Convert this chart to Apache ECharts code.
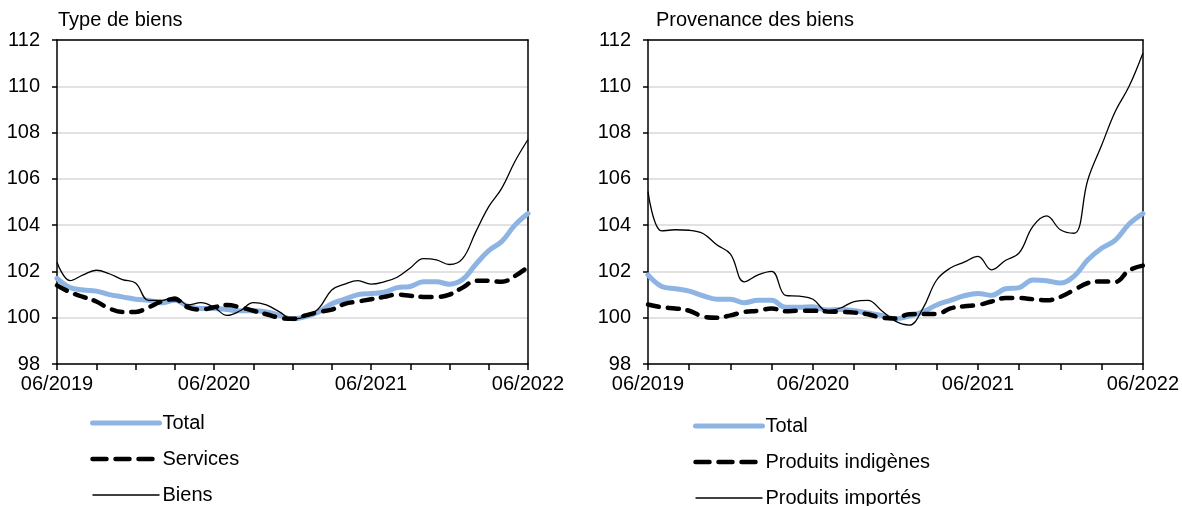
<!DOCTYPE html>
<html>
<head>
<meta charset="utf-8">
<script src="https://cdn.jsdelivr.net/npm/echarts@6/dist/echarts.min.js"></script>
<style>
html,body{margin:0;padding:0;background:#fff;}
#c{width:1182px;height:506px;}
</style>
</head>
<body>
<div id="c"></div>
<script>
const months = ['06/2019','07/2019','08/2019','09/2019','10/2019','11/2019','12/2019','01/2020','02/2020','03/2020','04/2020','05/2020',
'06/2020','07/2020','08/2020','09/2020','10/2020','11/2020','12/2020','01/2021','02/2021','03/2021','04/2021','05/2021',
'06/2021','07/2021','08/2021','09/2021','10/2021','11/2021','12/2021','01/2022','02/2022','03/2022','04/2022','05/2022','06/2022'];

const leftTitle = 'Type de biens';
const rightTitle = 'Provenance des biens';
const yTicks = [98, 100, 102, 104, 106, 108, 110, 112];

// Left panel
const totalLeft = [101.7,101.3,101.2,101.15,101.0,100.9,100.8,100.75,100.65,100.75,100.5,100.4,
100.4,100.35,100.3,100.3,100.25,100.1,99.95,100.05,100.25,100.6,100.8,101.0,
101.05,101.1,101.3,101.35,101.55,101.55,101.45,101.65,102.3,102.9,103.3,104.0,104.5];
const services = [101.4,101.1,100.9,100.7,100.4,100.25,100.25,100.45,100.7,100.8,100.45,100.35,
100.45,100.55,100.45,100.3,100.15,100.0,99.95,100.1,100.25,100.35,100.6,100.7,
100.8,100.9,101.0,100.95,100.9,100.9,101.0,101.3,101.6,101.6,101.55,101.8,102.2];
const biens = [102.4,101.6,101.85,102.05,101.9,101.65,101.5,100.75,100.75,100.9,100.55,100.65,
100.45,100.1,100.3,100.65,100.55,100.25,99.95,100.05,100.4,101.2,101.45,101.6,
101.45,101.55,101.75,102.15,102.55,102.5,102.3,102.55,103.7,104.8,105.6,106.75,107.7];

// Right panel
const totalRight = [101.85,101.35,101.25,101.15,100.95,100.8,100.8,100.65,100.75,100.75,100.45,100.45,
100.47,100.33,100.36,100.3,100.2,100.1,99.95,100.07,100.25,100.55,100.75,100.95,
101.05,100.97,101.25,101.3,101.63,101.6,101.5,101.8,102.5,103.0,103.35,104.05,104.5];
const indigenes = [100.57,100.45,100.4,100.3,100.05,100.0,100.1,100.25,100.3,100.4,100.28,100.3,
100.3,100.27,100.25,100.22,100.15,100.0,99.97,100.15,100.16,100.16,100.4,100.5,
100.55,100.7,100.85,100.85,100.8,100.75,100.9,101.2,101.5,101.57,101.55,102.05,102.25];
const importes = [105.45,103.75,103.8,103.78,103.64,103.15,102.75,101.55,101.85,102.0,100.97,100.93,
100.8,100.3,100.42,100.7,100.75,100.3,99.85,99.68,100.4,101.63,102.15,102.4,
102.65,102.07,102.47,102.8,103.95,104.4,103.8,103.65,105.96,107.45,108.92,110.0,111.43];

const FONT = 'Liberation Sans, Arial, sans-serif';
const FS = 20;
const BLUE = '#8EB4E3';
const DASH = [11, 9];
const LEGEND_DASH = [14, 9];

function xAxis(gi){
  return {
    type:'category', gridIndex:gi, data:months, boundaryGap:false,
    axisLine:{show:true, onZero:false, lineStyle:{color:'#000', width:1.5}},
    axisTick:{show:true, length:6, inside:false, interval:(i)=>i%3===0, lineStyle:{color:'#000', width:1.5}},
    axisLabel:{interval:(i)=>i%12===0, color:'#000', fontSize:FS, fontFamily:FONT, margin:10, showMaxLabel:true, showMinLabel:true},
    splitLine:{show:false}
  };
}
function topAxis(gi){
  return {
    type:'category', gridIndex:gi, data:months, boundaryGap:false, position:'top',
    axisLine:{show:true, onZero:false, lineStyle:{color:'#000', width:1.5}},
    axisTick:{show:false}, axisLabel:{show:false}, splitLine:{show:false}
  };
}
function yAxis(gi){
  return {
    type:'value', gridIndex:gi, min:yTicks[0], max:yTicks[yTicks.length-1], interval:2,
    axisLine:{show:true, lineStyle:{color:'#000', width:1.5}},
    axisTick:{show:true, length:5, lineStyle:{color:'#000', width:1.5}},
    axisLabel:{color:'#000', fontSize:FS, fontFamily:FONT, margin:17},
    splitLine:{show:true, lineStyle:{color:'#D9D9D9', width:1.5}}
  };
}
function rightAxis(gi){
  return {
    type:'value', gridIndex:gi, min:yTicks[0], max:yTicks[yTicks.length-1], interval:2, position:'right',
    axisLine:{show:true, lineStyle:{color:'#000', width:1.5}},
    axisTick:{show:false}, axisLabel:{show:false}, splitLine:{show:false}
  };
}
function totalSeries(name, data, xi){
  return {name, type:'line', xAxisIndex:xi, yAxisIndex:xi, data, smooth:0.4, symbol:'none', showSymbol:false,
    lineStyle:{color:BLUE, width:5, cap:'round'}, itemStyle:{color:BLUE}, z:3};
}
function dashSeries(name, data, xi){
  return {name, type:'line', xAxisIndex:xi, yAxisIndex:xi, data, smooth:0.4, symbol:'none', showSymbol:false,
    lineStyle:{color:'#000', width:4.5, type:DASH, cap:'round'}, itemStyle:{color:'#000'}, z:4};
}
function thinSeries(name, data, xi){
  return {name, type:'line', xAxisIndex:xi, yAxisIndex:xi, data, smooth:0.4, symbol:'none', showSymbol:false,
    lineStyle:{color:'#000', width:1.3}, itemStyle:{color:'#000'}, z:5};
}
function legendItems(names){
  return [
    {name:names[0], itemStyle:{opacity:0}, lineStyle:{color:BLUE, width:5, cap:'round', type:'solid'}},
    {name:names[1], itemStyle:{opacity:0}, lineStyle:{color:'#000', width:4.5, cap:'round', type:LEGEND_DASH}},
    {name:names[2], itemStyle:{opacity:0}, lineStyle:{color:'#000', width:1.3, type:'solid'}}
  ];
}

const chart = echarts.init(document.getElementById('c'), null, {renderer:'canvas'});
chart.setOption({
  animation:false,
  backgroundColor:'#fff',
  title:[
    {text:leftTitle, left:53, top:5, textStyle:{fontSize:FS, fontWeight:'normal', color:'#000', fontFamily:FONT}},
    {text:rightTitle, left:651, top:5, textStyle:{fontSize:FS, fontWeight:'normal', color:'#000', fontFamily:FONT}}
  ],
  grid:[
    {left:57, right:654, top:40, bottom:142, containLabel:false},
    {left:648, right:39, top:40, bottom:142, containLabel:false}
  ],
  xAxis:[xAxis(0), xAxis(1), topAxis(0), topAxis(1)],
  yAxis:[yAxis(0), yAxis(1), rightAxis(0), rightAxis(1)],
  legend:[
    {data:legendItems(['Total','Services','Biens']), orient:'vertical', left:90, top:413, height:100, padding:0,
     itemWidth:67, itemHeight:20, itemGap:16,
     textStyle:{fontSize:FS, fontFamily:FONT, color:'#000', padding:[0,0,0,-2]}},
    {data:legendItems(['Total ','Produits indigènes','Produits importés']), orient:'vertical', left:693, top:416, height:100, padding:0,
     itemWidth:67, itemHeight:20, itemGap:16,
     textStyle:{fontSize:FS, fontFamily:FONT, color:'#000', padding:[0,0,0,-2]}}
  ],
  series:[
    totalSeries('Total', totalLeft, 0),
    dashSeries('Services', services, 0),
    thinSeries('Biens', biens, 0),
    totalSeries('Total ', totalRight, 1),
    dashSeries('Produits indigènes', indigenes, 1),
    thinSeries('Produits importés', importes, 1)
  ]
});
</script>
</body>
</html>
